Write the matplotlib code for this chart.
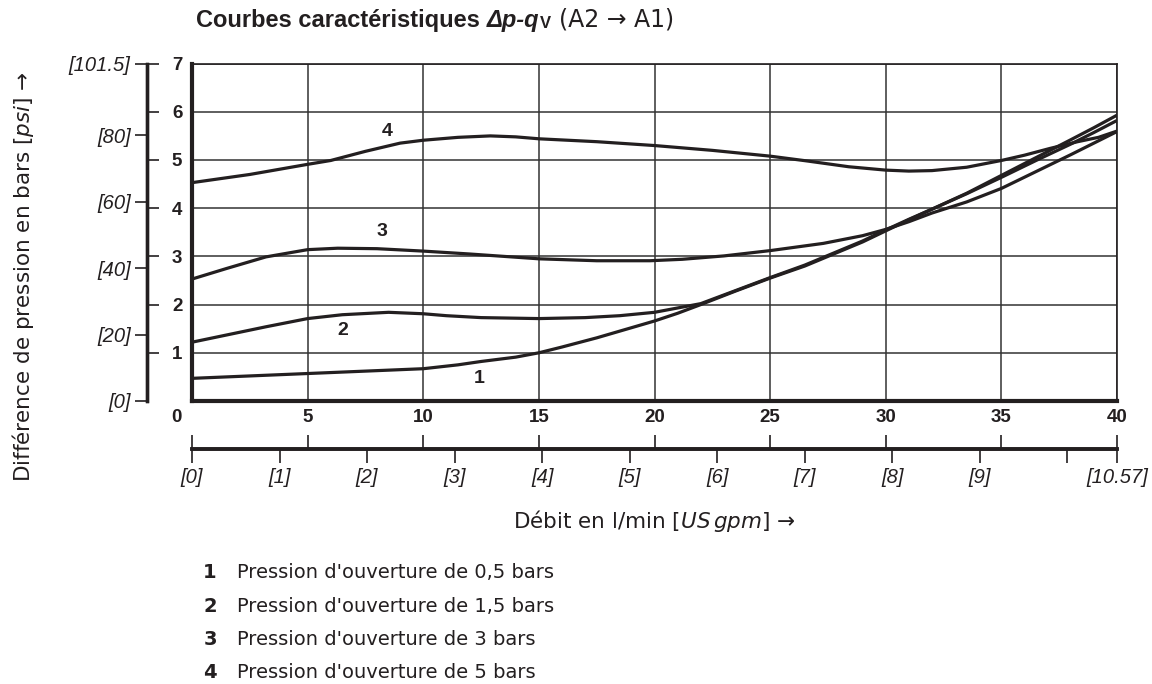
import matplotlib.pyplot as plt
from matplotlib.transforms import ScaledTranslation

# Kennlinien Δp-qV, gelesen aus dem Bild (l/min, bar)
flow_1 = [0, 2.5, 5, 7.5, 10, 11.5, 12.5, 14, 15, 16, 17.5, 19, 20, 21, 22, 23.5, 25, 26.5, 28, 29, 30, 31, 32, 33.5, 35, 36.5, 38, 39, 40]
dp_1 = [0.47, 0.52, 0.57, 0.62, 0.67, 0.75, 0.82, 0.91, 1.0, 1.12, 1.31, 1.52, 1.66, 1.82, 2.0, 2.28, 2.55, 2.8, 3.1, 3.3, 3.53, 3.76, 3.98, 4.31, 4.68, 5.05, 5.42, 5.67, 5.93]

flow_2 = [0, 1.5, 3.2, 5, 6.5, 8.5, 10, 11, 12.5, 15, 17, 18.5, 20, 21, 22, 23.5, 25, 26.5, 28, 29, 30, 31, 32, 33.5, 35, 36.5, 38, 39, 40]
dp_2 = [1.22, 1.37, 1.54, 1.71, 1.79, 1.84, 1.81, 1.77, 1.73, 1.71, 1.73, 1.77, 1.84, 1.93, 2.02, 2.29, 2.56, 2.82, 3.12, 3.32, 3.55, 3.77, 3.98, 4.3, 4.64, 4.99, 5.33, 5.57, 5.82]

flow_3 = [0, 1.5, 3.2, 5, 6.3, 8, 10, 12, 13.5, 15, 17.5, 19.8, 21.2, 23, 25, 27.3, 29, 30, 31, 32, 33.5, 35, 36.5, 38, 39, 40]
dp_3 = [2.53, 2.75, 2.99, 3.14, 3.17, 3.16, 3.11, 3.05, 3.0, 2.95, 2.91, 2.91, 2.94, 3.01, 3.12, 3.27, 3.43, 3.56, 3.72, 3.9, 4.13, 4.41, 4.76, 5.11, 5.35, 5.59]

flow_4 = [0, 2.5, 5, 6, 7.5, 9, 10, 11.5, 12.9, 14, 15, 17.5, 20, 22.5, 25, 26.6, 28.4, 30, 31, 32, 33.5, 35, 36, 37.1, 38.3, 39.2, 40]
dp_4 = [4.53, 4.7, 4.91, 4.99, 5.18, 5.35, 5.41, 5.47, 5.5, 5.48, 5.44, 5.38, 5.3, 5.2, 5.08, 4.98, 4.86, 4.79, 4.77, 4.78, 4.85, 4.99, 5.1, 5.24, 5.38, 5.47, 5.6]

curve_names = ["1", "2", "3", "4"]
label_x = [12.4, 6.5, 8.2, 8.45]
label_y = [0.47, 1.47, 3.51, 5.59]

legend_text = ["Pression d'ouverture de 0,5 bars",
               "Pression d'ouverture de 1,5 bars",
               "Pression d'ouverture de 3 bars",
               "Pression d'ouverture de 5 bars"]

bar_ticks = [0, 1, 2, 3, 4, 5, 6, 7]
lpm_ticks = [0, 5, 10, 15, 20, 25, 30, 35, 40]
psi_ticks = [0, 20, 40, 60, 80, 101.5]
psi_labels = ["[0]", "[20]", "[40]", "[60]", "[80]", "[101.5]"]
gpm_ticks = [0, 1, 2, 3, 4, 5, 6, 7, 8, 9, 10, 10.5668]
gpm_labels = ["[0]", "[1]", "[2]", "[3]", "[4]", "[5]", "[6]", "[7]", "[8]", "[9]", "", "[10.57]"]

ink = "#231f20"
W, H = 1152, 684
L_PER_GAL = 3.785411784
PSI_PER_BAR = 14.5
plt.rcParams["mathtext.fontset"] = "dejavusans"
plt.rcParams["font.family"] = "DejaVu Sans"
num_font = "Liberation Sans"

fig = plt.figure(figsize=(W / 100, H / 100), dpi=100)
# plot box in pixels: x 192..1117, y 63.6..401
ax = fig.add_axes([192 / W, 1 - 401 / H, 925 / W, 337.4 / H])
ax.set_xlim(0, 40)
ax.set_ylim(0, 7)

for fx, dy in [(flow_1, dp_1), (flow_2, dp_2), (flow_3, dp_3), (flow_4, dp_4)]:
	ax.plot(fx, dy, color=ink, lw=2.3, solid_joinstyle="round", solid_capstyle="butt", zorder=3)

for name, lx, ly in zip(curve_names, label_x, label_y):
	ax.text(lx, ly, name, family=num_font, weight="bold", size=14, color=ink, ha="center", va="center")

ax.grid(True, color="#333333", lw=1.1)
ax.set_axisbelow(True)
for side in ["left", "bottom"]:
	ax.spines[side].set_linewidth(3.0)
for side in ["top", "right"]:
	ax.spines[side].set_linewidth(1.2)
for s in ax.spines.values():
	s.set_color(ink)

ax.set_yticks(bar_ticks, labels=[""] + [str(b) for b in bar_ticks[1:]])
ax.set_xticks(lpm_ticks, labels=[str(q) for q in lpm_ticks])
ax.tick_params(axis="both", length=0, colors=ink, labelsize=13.5)
ax.tick_params(axis="y", pad=7)
ax.tick_params(axis="x", pad=6)
for lab in ax.get_xticklabels() + ax.get_yticklabels():
	lab.set_family(num_font)
	lab.set_weight("bold")
zero = ax.get_xticklabels()[0]
zero.set_transform(zero.get_transform() + ScaledTranslation(-0.16, 0, fig.dpi_scale_trans))

# psi / bar axis left of the plot
loc_y = -(192 - 146.7) / 925
psi = ax.secondary_yaxis(loc_y, functions=(lambda b: b * PSI_PER_BAR, lambda p: p / PSI_PER_BAR))
psi.set_yticks(psi_ticks, labels=psi_labels, fontstyle="italic", family=num_font)
psi.tick_params(direction="out", length=8.5, width=1.2, labelsize=14.5, pad=3, colors=ink)
psi.spines["left"].set_linewidth(2.4)
psi.spines["left"].set_color(ink)

barax = ax.secondary_yaxis(loc_y)
barax.set_yticks(bar_ticks[1:], labels=[])
barax.tick_params(direction="in", length=8.5, width=1.2, colors=ink)
barax.spines["left"].set_linewidth(2.4)
barax.spines["left"].set_color(ink)

# l/min and US gpm axis below
loc_x = -(449 - 401) / 337.4
lpm = ax.secondary_xaxis(loc_x)
lpm.set_xticks(lpm_ticks, labels=[])
lpm.tick_params(direction="in", length=10, width=1.2, colors=ink)
lpm.spines["bottom"].set_linewidth(2.6)
lpm.spines["bottom"].set_color(ink)

gpm = ax.secondary_xaxis(loc_x, functions=(lambda q: q / L_PER_GAL, lambda g: g * L_PER_GAL))
gpm.set_xticks(gpm_ticks, labels=gpm_labels, fontstyle="italic", family=num_font)
gpm.tick_params(direction="out", length=10, width=1.2, labelsize=14.5, pad=4, colors=ink)
gpm.spines["bottom"].set_linewidth(2.6)
gpm.spines["bottom"].set_color(ink)

# axis titles
fig.text(654.5 / W, 1 - 528 / H, r"Débit en l/min $\mathit{[US\,gpm]}$ →",
	ha="center", va="baseline", size=15.5, color=ink)
fig.text(23 / W, 1 - 277 / H, r"Différence de pression en bars $\mathit{[psi]}$ →",
	ha="center", va="center", rotation=90, size=15.5, color=ink)

# title in pieces
t1 = fig.text(196 / W, 1 - 26.5 / H, "Courbes caractéristiques", family=num_font,
	weight="bold", size=17, color=ink, va="baseline")
t2 = ax.annotate("Δp-q", xy=(1, 0), xycoords=t1, xytext=(5, 0), textcoords="offset points",
	family=num_font, weight="bold", style="italic", size=17, color=ink, va="bottom", annotation_clip=False)
t3 = ax.annotate("V", xy=(1, 0), xycoords=t2, xytext=(0.5, 0), textcoords="offset points",
	family=num_font, weight="bold", size=12, color=ink, va="bottom", annotation_clip=False)
ax.annotate("(A2 → A1)", xy=(1, 0), xycoords=t3, xytext=(6, 0), textcoords="offset points",
	size=17, color=ink, va="bottom", annotation_clip=False)

# numbered key under the chart
key_base = [577.7, 611.7, 645.0, 678.3]
for name, txt, yb in zip(curve_names, legend_text, key_base):
	fig.text(210 / W, 1 - yb / H, name, weight="bold", size=14, color=ink, ha="center", va="baseline")
	fig.text(237 / W, 1 - yb / H, txt, size=14, color=ink, ha="left", va="baseline")

fig.savefig("out.png", dpi=100)
